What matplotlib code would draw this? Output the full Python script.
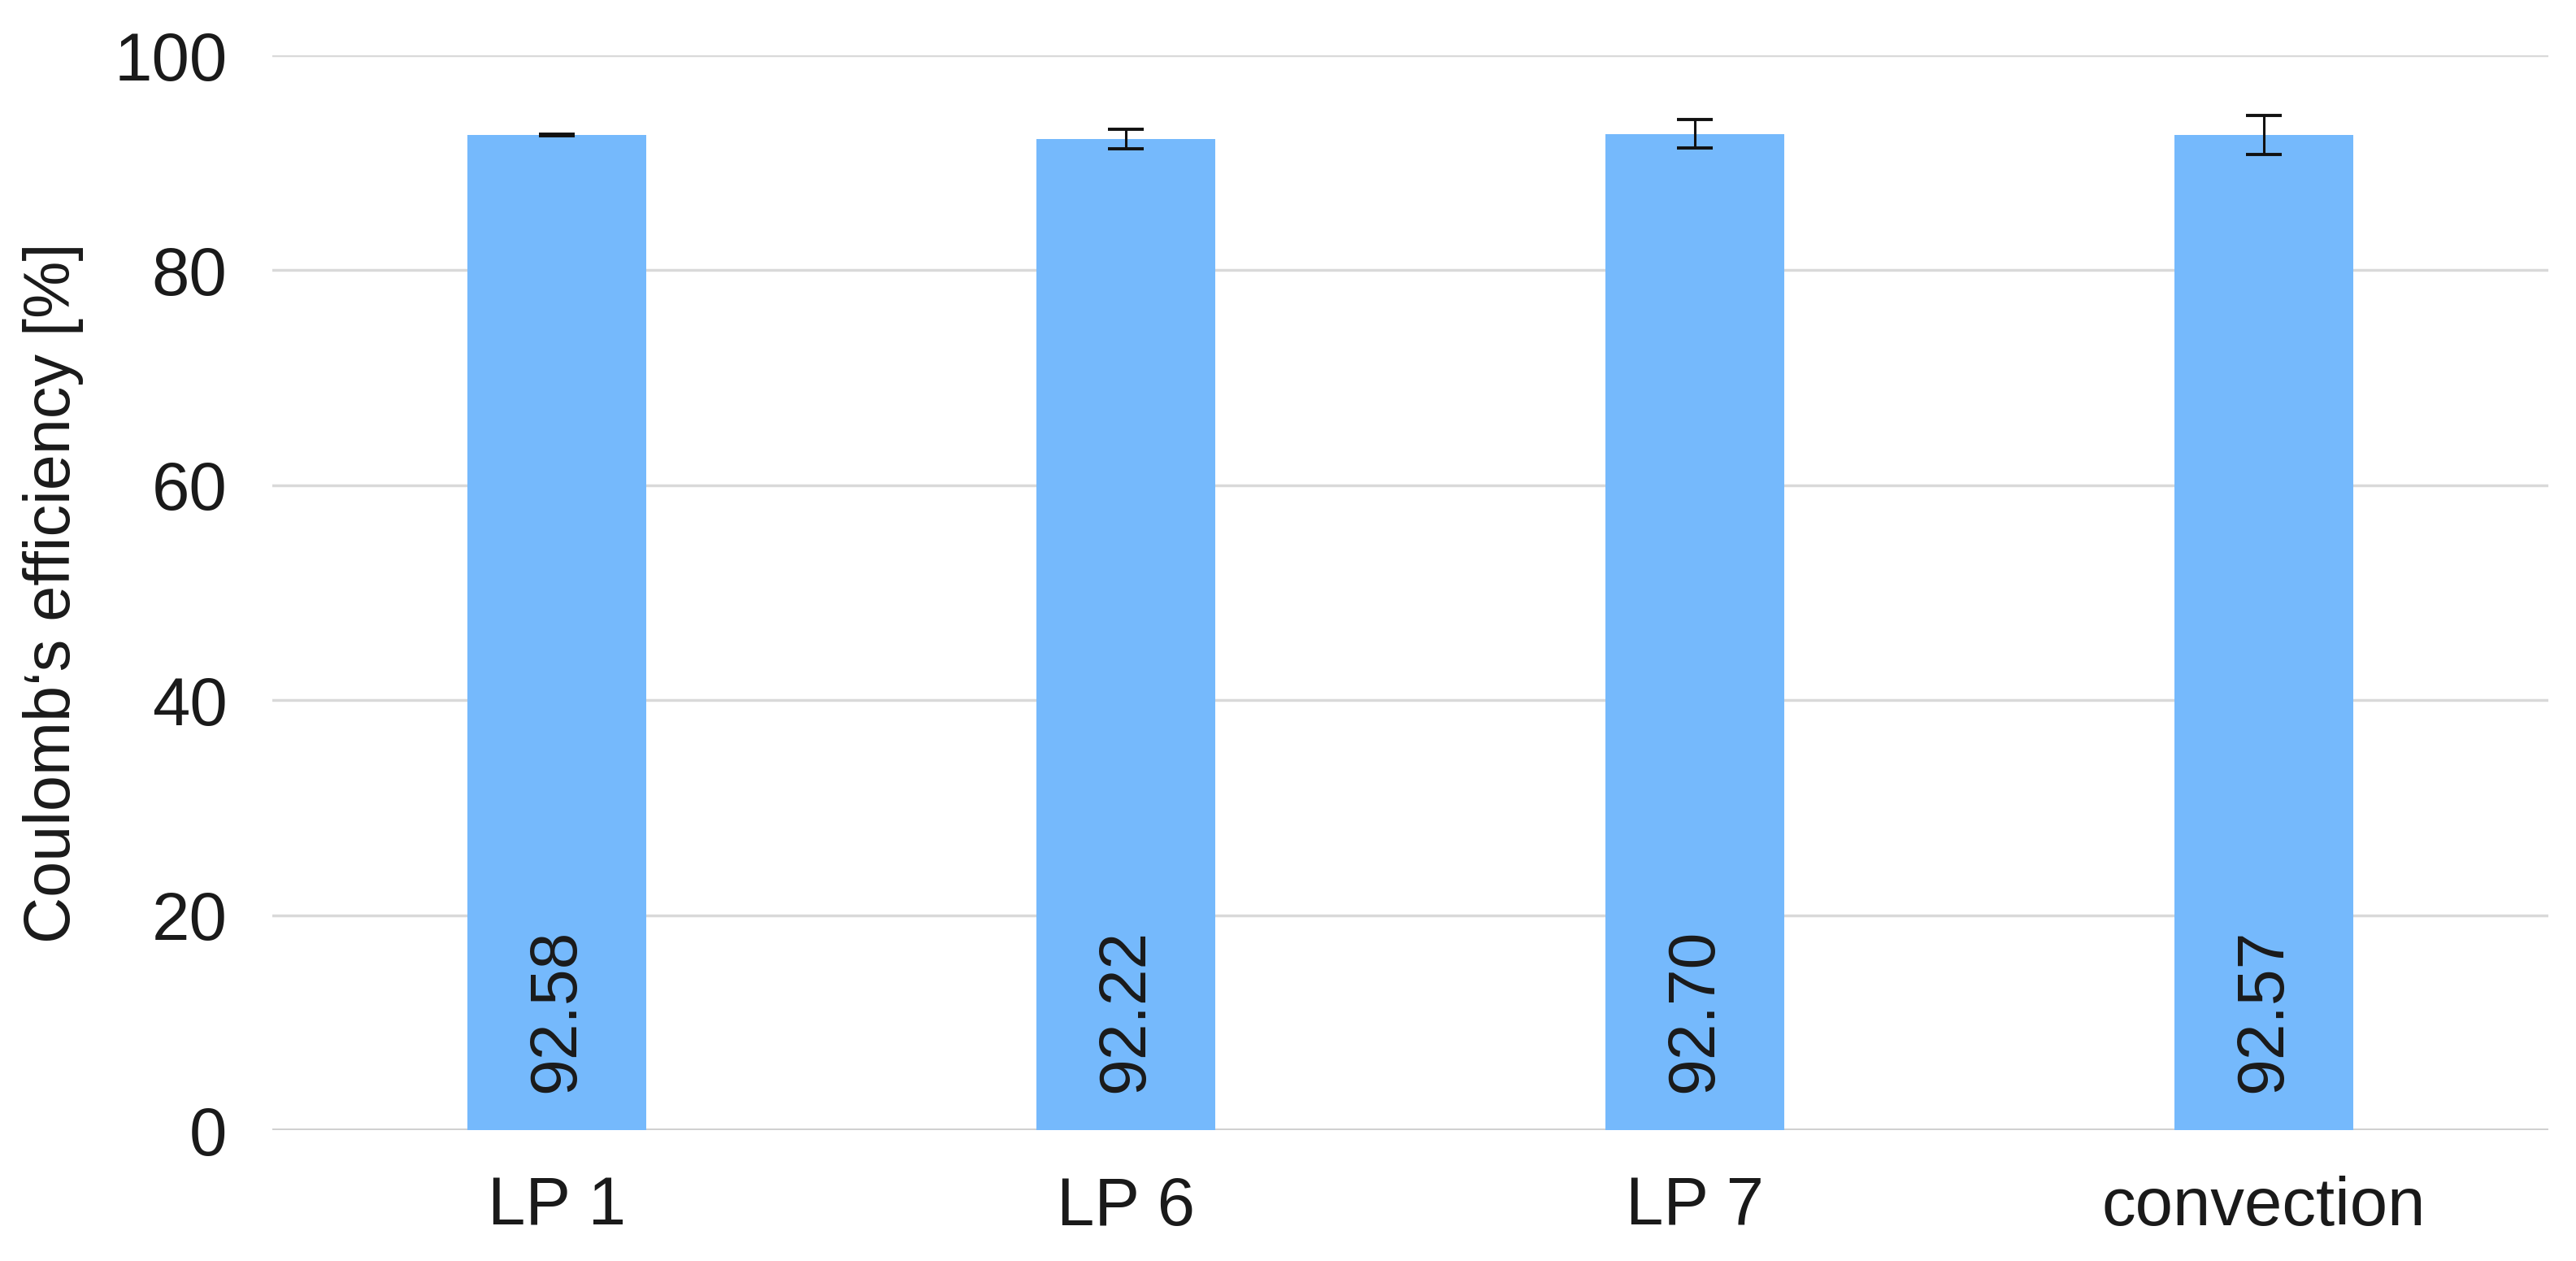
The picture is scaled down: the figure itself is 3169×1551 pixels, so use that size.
import matplotlib
matplotlib.use('Agg')
import matplotlib.pyplot as plt
import numpy as np

# data
categories = ['LP 1', 'LP 6', 'LP 7', 'convection']
efficiency = [92.58, 92.22, 92.70, 92.57]
errors = [0.1, 0.9, 1.3, 1.8]
yticks = [0, 20, 40, 60, 80, 100]

plt.rcParams['font.family'] = ['Liberation Sans', 'DejaVu Sans']

fig = plt.figure(figsize=(31.69, 15.51), dpi=100)
left, right, top, bottom = 335, 3135, 68, 1390
ax = fig.add_axes([left / 3169, 1 - bottom / 1551, (right - left) / 3169, (bottom - top) / 1551])

x = np.arange(len(categories))
ax.bar(x, efficiency, width=0.315, color='#75b9fc', zorder=2)
ax.errorbar(x, efficiency, yerr=errors, fmt='none', ecolor='#111111',
            elinewidth=2.2, capsize=16, capthick=2.8, zorder=3)

for xi, v in zip(x, efficiency):
    ax.text(xi, 3.5, '{:.2f}'.format(v), rotation=90, ha='center', va='bottom',
            fontsize=58, color='#1a1a1a', zorder=4)

ax.set_xlim(-0.5, len(categories) - 0.5)
ax.set_ylim(0, 100)
ax.set_yticks(yticks)
ax.set_xticks(x)
ax.set_xticklabels(categories)
ax.tick_params(axis='both', length=0, colors='#1a1a1a')
ax.tick_params(axis='y', pad=40, labelsize=60)
ax.tick_params(axis='x', pad=40, labelsize=60)
ax.yaxis.grid(True, color='#d9d9d9', linewidth=2.5, zorder=0)
ax.set_axisbelow(True)
for s in ax.spines.values():
    s.set_visible(False)
ax.axhline(0, color='#d0d0d0', linewidth=3.5, zorder=1)

ax.set_ylabel('Coulomb‘s efficiency [%]', fontsize=57, color='#1a1a1a')
ax.yaxis.set_label_coords(-0.083, 0.5)

fig.savefig('out.png', dpi=100, facecolor='white')
